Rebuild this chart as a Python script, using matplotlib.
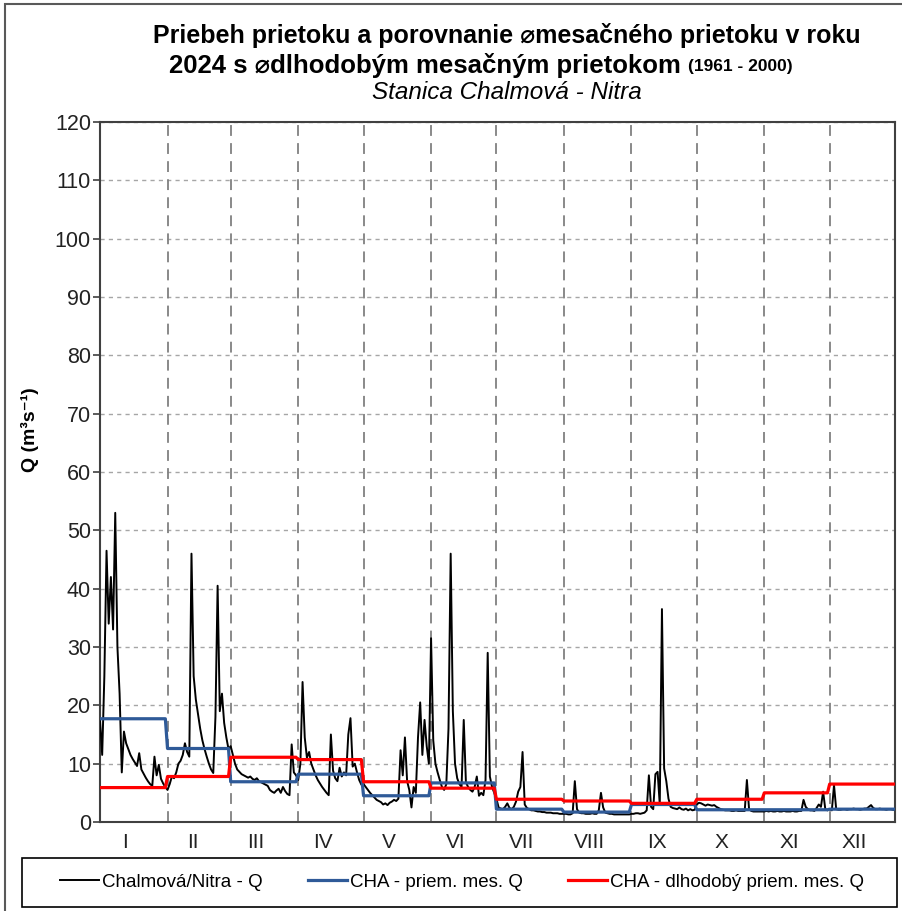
import numpy as np
import matplotlib
matplotlib.use('Agg')
import matplotlib.pyplot as plt
from matplotlib.patches import Rectangle

plt.rcParams['font.family'] = ['Liberation Sans', 'DejaVu Sans']

# ---------------- data ----------------
months = ['I', 'II', 'III', 'IV', 'V', 'VI', 'VII', 'VIII', 'IX', 'X', 'XI', 'XII']
month_days = [31, 29, 31, 30, 31, 30, 31, 31, 30, 31, 30, 31]

q_jan = [17.5, 11.5, 25, 46.5, 34, 42, 33, 53, 30, 22, 8.5, 15.5, 13.5, 12.5, 11.5, 10.8,
         10.2, 9.6, 11.8, 9.0, 8.3, 7.6, 7.0, 6.5, 6.2, 11.2, 8.0, 9.8, 7.4, 6.6, 6.0]
q_feb = [5.5, 6.5, 7.8, 7.5, 8.5, 10.0, 10.5, 11.5, 13.5, 12.0, 11.2, 46, 25, 21, 18.5,
         16, 14, 12.5, 11.2, 10, 9, 8.4, 18, 40.5, 19, 22, 17, 14.5, 12.5]
q_mar = [13, 11.5, 10, 9, 8.6, 8.2, 8.0, 7.8, 7.6, 7.8, 7.4, 7.2, 7.5, 7.0, 6.8, 6.6,
         6.4, 6.2, 5.5, 5.2, 5.0, 5.4, 5.7, 5.0, 6.0, 5.3, 4.8, 4.6, 13.3, 8.5, 8.0]
q_apr = [7.2, 10, 24, 14.5, 11, 12, 10, 9, 8, 7.2, 6.6, 6.0, 5.5, 5.0, 4.6, 15, 8.8,
         7.5, 7.0, 9.3, 7.8, 8.5, 8.0, 15, 17.8, 9.5, 10, 8.5, 7.2, 6.4]
q_may = [6.5, 6.0, 5.5, 5.0, 4.6, 4.2, 3.8, 3.6, 3.4, 3.0, 3.2, 2.9, 3.3, 3.5, 3.8, 3.6,
         4.0, 12.3, 8.0, 14.5, 7.0, 5.5, 2.5, 6.0, 5.0, 14.5, 20.5, 11.5, 17.5, 13.0, 10.0]
q_jun = [31.5, 14, 10, 8.5, 7.2, 6.0, 5.5, 6.5, 16, 46, 19, 10, 7.5, 6.5, 6.0, 17.5,
         6.8, 6.0, 5.5, 5.2, 6.0, 7.8, 4.5, 5.0, 4.6, 7.2, 29, 7.8, 6.0, 5.0]
q_jul = [4.0, 2.5, 2.3, 2.2, 2.6, 3.2, 2.4, 2.2, 2.6, 3.5, 5.2, 6.0, 12, 3.0, 2.4, 2.2,
         2.0, 2.0, 1.9, 1.8, 1.8, 1.7, 1.7, 1.6, 1.6, 1.6, 1.5, 1.5, 1.5, 1.4, 1.4]
q_aug = [1.4, 1.4, 1.3, 1.3, 1.5, 7.0, 2.2, 1.6, 1.5, 1.5, 1.4, 1.4, 1.4, 1.5, 1.4, 1.4,
         2.0, 5.0, 2.5, 1.6, 1.5, 1.4, 1.4, 1.3, 1.3, 1.3, 1.3, 1.3, 1.3, 1.3, 1.3]
q_sep = [1.4, 1.4, 1.5, 1.5, 1.4, 1.5, 1.6, 2.0, 8.0, 2.6, 2.2, 8.2, 8.6, 3.0, 36.5,
         9.2, 7.0, 4.0, 2.6, 2.4, 2.3, 2.2, 2.5, 2.2, 2.1, 2.3, 2.0, 2.2, 2.0, 2.1]
q_oct = [3.0, 3.3, 3.2, 3.0, 2.8, 3.0, 2.9, 2.8, 2.9, 2.6, 2.4, 2.2, 2.1, 2.0, 2.0, 2.0,
         1.9, 1.9, 2.0, 1.9, 1.9, 1.9, 1.9, 7.2, 2.2, 1.9, 1.8, 1.8, 1.8, 1.8, 1.8]
q_nov = [1.8, 1.9, 1.8, 1.9, 1.8, 1.8, 1.9, 1.8, 1.8, 1.9, 1.8, 1.8, 1.8, 1.9, 1.8,
         1.8, 1.9, 1.9, 3.8, 2.6, 2.2, 2.0, 2.0, 1.9, 2.4, 3.0, 2.6, 5.2, 2.2, 2.0]
q_dec = [2.2, 2.0, 6.3, 2.2, 2.1, 2.1, 2.2, 2.2, 2.1, 2.2, 2.2, 2.3, 2.2, 2.2, 2.1, 2.2,
         2.3, 2.3, 2.6, 2.9, 2.4, 2.2, 2.2, 2.3, 2.2, 2.2, 2.1, 2.2, 2.2, 2.1, 2.1]

mean_2024 = [17.7, 12.6, 6.9, 8.2, 4.5, 6.7, 2.2, 1.7, 3.0, 2.1, 2.1, 2.2]
mean_longterm = [5.9, 7.8, 11.1, 10.7, 6.9, 5.8, 3.9, 3.6, 3.2, 3.9, 5.0, 6.5]

labels = ['Chalmová/Nitra - Q', 'CHA - priem. mes. Q', 'CHA - dlhodobý priem. mes. Q']

# ---------------- derived ----------------
daily = np.concatenate([q_jan, q_feb, q_mar, q_apr, q_may, q_jun,
                        q_jul, q_aug, q_sep, q_oct, q_nov, q_dec])
days = np.arange(len(daily))
blue_daily = np.repeat(mean_2024, month_days)
red_daily = np.repeat(mean_longterm, month_days)
month_starts = np.concatenate([[0], np.cumsum(month_days)[:-1]])

W, H = 902, 911
fig = plt.figure(figsize=(W / 100, H / 100), dpi=100)
ax = fig.add_axes([100 / W, 1 - 822 / H, 795 / W, 700 / H])

l1, = ax.plot(days, daily, color='black', lw=1.4, zorder=3)
l2, = ax.plot(days, blue_daily, color='#2F5A98', lw=2.3, zorder=4)
l3, = ax.plot(days, red_daily, color='#FF0000', lw=2.3, zorder=5)

ax.set_xlim(0, 365)
ax.set_ylim(0, 120)
ax.set_yticks(range(0, 121, 10))
ax.yaxis.grid(True, linestyle=(0, (3, 3)), color='#A6A6A6', lw=1)
ax.set_axisbelow(True)
for s in month_starts[1:]:
    ax.axvline(s, color='#808080', lw=1.3, linestyle=(0, (6, 4)), zorder=1)

ax.set_xticks(month_starts + 11.5)
ax.set_xticklabels(months)
ax.tick_params(axis='x', length=0, pad=8, labelsize=15, colors='#222222')
ax.tick_params(axis='y', direction='out', length=5, labelsize=15.5, width=1.2,
               color='#404040', labelcolor='#222222', pad=1.5)
for sp in ax.spines.values():
    sp.set_color('#404040')
    sp.set_linewidth(1.5)

ax.set_ylabel('Q (m³s⁻¹)', fontweight='bold', fontsize=14)
ax.yaxis.set_label_coords(-0.077, 0.56)

# ---------------- titles ----------------
fig.text(507 / W, 1 - 35 / H, 'Priebeh prietoku a porovnanie ⌀mesačného prietoku v roku',
         ha='center', va='center', fontsize=18, fontweight='bold')
t2a = fig.text(0, 1 - 65 / H, '2024 s ⌀dlhodobým mesačným prietokom ',
               ha='left', va='center', fontsize=18.5, fontweight='bold')
t2b = fig.text(0, 1 - 66.5 / H, '(1961 - 2000)', ha='left', va='center',
               fontsize=12.5, fontweight='bold')
fig.canvas.draw()
r = fig.canvas.get_renderer()
wa = t2a.get_window_extent(r).width
wb = t2b.get_window_extent(r).width
x0 = 481 - (wa + wb) / 2
t2a.set_x(x0 / W)
t2b.set_x((x0 + wa) / W)
fig.text(507 / W, 1 - 92.5 / H, 'Stanica Chalmová - Nitra', ha='center', va='center',
         fontsize=17.5, fontstyle='italic')

# ---------------- legend ----------------
fig.add_artist(Rectangle((22 / W, 1 - 907 / H), 875 / W, 49 / H, transform=fig.transFigure,
                         fill=False, edgecolor='black', lw=1.2))
fig.legend([l1, l2, l3], labels, loc='center', bbox_to_anchor=(462 / W, 1 - 882 / H),
           ncol=3, frameon=False, fontsize=13.5, handlelength=2.1, handletextpad=0.15,
           columnspacing=2.4)

# outer frame
fig.add_artist(Rectangle((5 / W, -0.05), 2, 1.05 - 4 / H, transform=fig.transFigure,
                         fill=False, edgecolor='#595959', lw=1.5))

fig.savefig('out.png', dpi=100)
